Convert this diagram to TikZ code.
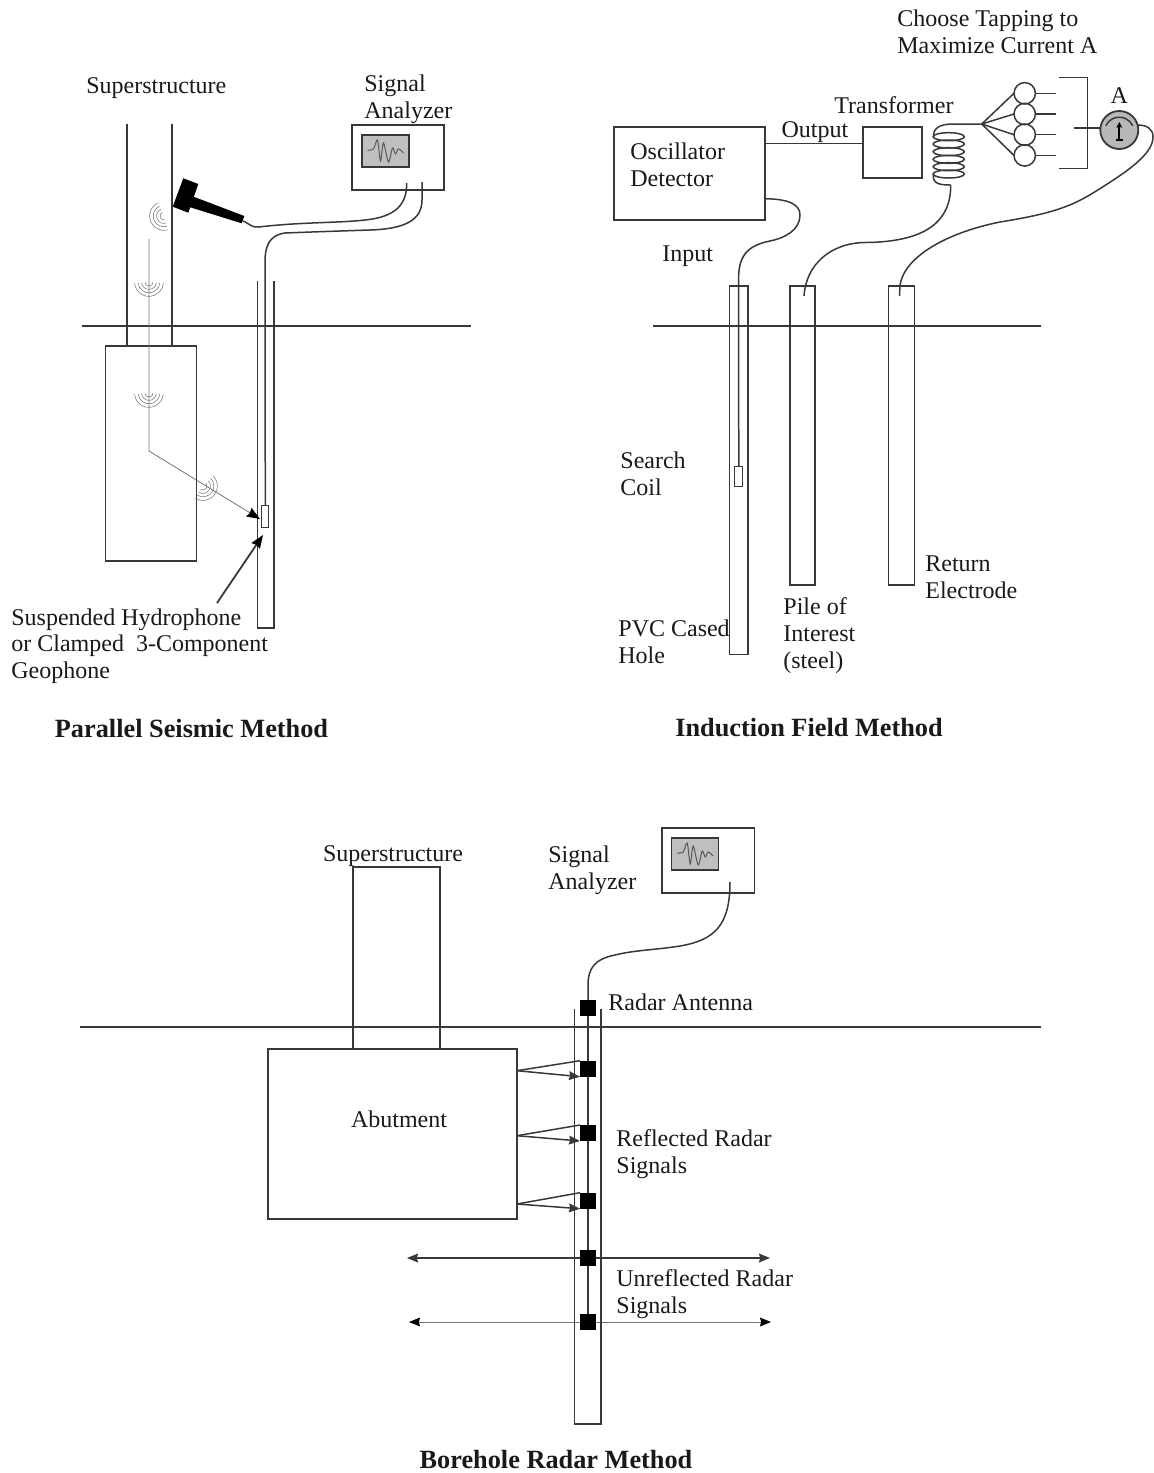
\documentclass[tikz,border=0pt]{standalone}
\usepackage{fontspec}
\setmainfont{Liberation Serif}
\usepackage{xcolor}
\usetikzlibrary{positioning, arrows.meta, backgrounds}

\begin{document}
\begin{tikzpicture}[
    x=0.5pt, y=-0.5pt,
    >={Stealth[length=5.5pt, width=4.4pt, inset=0.6pt]},
    ln/.style={draw=black!78, line width=0.75pt},
    thinln/.style={draw=black!55, line width=0.4pt},
    bigtip/.style={-{Stealth[length=6.5pt, width=5pt, inset=0.6pt, black]}},
    box/.style 2 args={ln, inner sep=0pt, outer sep=0pt, minimum width=#1*0.5pt, minimum height=#2*0.5pt},
    screen/.style={box={47}{32}, fill=black!25},
    lbl/.style={anchor=west, inner sep=0pt, align=left, text=black!90, font=\fontsize{12}{13.3}\selectfont},
    title/.style={inner sep=0pt, text=black!90, font=\fontsize{13.15}{14}\selectfont\bfseries},
    tap/.style={circle, ln, inner sep=0pt, outer sep=0pt, minimum size=10.7pt},
    ant/.style={fill=black, inner sep=0pt, outer sep=0pt, minimum size=8pt},
    trace/.pic={\draw[black!65, line width=0.5pt] plot[smooth, tension=0.5] coordinates {(-18,-1) (-12,-2) (-8,-11) (-5,10) (-2,-8) (3,11) (7,-3) (10,3) (13,-2) (18,2)};},
    ripple/.pic={\foreach \r in {2,3.7,5.4,7.2} {\draw[black!50, line width=0.3pt] (0,0) ++(#1:\r pt) arc[start angle=#1, delta angle=170, radius=\r pt];}},
]
\useasboundingbox (0,0) rectangle (1154,1473);

% Parallel seismic
\node[lbl] (sup1) at (86,88) {Superstructure};
\node[box={91}{215}] (footing) at (151,453.5) {};
\draw[ln] (127,124) -- (127,346);
\draw[ln] (172,124) -- (172,346);
\draw[ln] (82,326) -- (471,326);
\node[box={92}{65}] (sa1) at (398,157.5) {};
\node[screen] (scr1) at (385.5,151) {};
\pic at (scr1) {trace};
\node[lbl] (sa1lab) at (364,99.5) {Signal\\Analyzer};

% Hammer
\fill[black] (183.3,178.3) -- (198.3,184) -- (188.3,212.7) -- (172.7,206.7) -- cycle;
\fill[black] (191.7,196) -- (244.3,216) -- (241.7,223.3) -- (188.3,206.7) -- cycle;
\coordinate (hamend) at (243,221);

% Borehole
\draw[ln] (257.3,281) -- (257.3,628) -- (274,628) -- (274,281);
\node[box={6.7}{22}, line width=0.5pt] (hyd) at (265.3,516) {};
\coordinate (sa1a) at (406.7,183);
\coordinate (sa1b) at (422,182);
\draw[ln] (hamend) .. controls (250,224) and (252,228) .. (259,227) .. controls (300,222) and (340,223) .. (365,220) .. controls (395,217) and (407,205) .. (sa1a);
\draw[ln] (sa1b) -- (422,200) .. controls (422,220) and (405,229) .. (370,230) .. controls (340,231) and (310,232) .. (285,233) .. controls (270,235) and (265,245) .. (265,262) -- (hyd.north);

% Wave path
\coordinate (wavetop) at (149,239);
\coordinate (wavebend) at (149,451);
\coordinate (wavetip) at (260,519);
\draw[thinln, bigtip] (wavetop) -- (wavebend) -- (wavetip);
\pic at (164,216) {ripple=115};
\pic at (149,282) {ripple=185};
\pic at (149,393) {ripple=185};
\pic at (203,486) {ripple=-125};

\node[lbl] (hydlab) at (11,646) {Suspended Hydrophone\\or Clamped\ \ 3-Component\\Geophone};
\coordinate (hydtail) at (217,603);
\coordinate (hydtip) at (263,535);
\draw[ln, line width=0.9pt, bigtip] (hydtail) -- (hydtip);
\node[title] (t1) at (191.5,728) {Parallel Seismic Method};

% Induction field
\node[box={151}{93}] (osc) at (689.5,173.5) {};
\node[lbl] (osclab) at (630,165) {Oscillator\\Detector};
\node[box={59}{51}] (trf) at (892.5,152.5) {};
\draw[ln] (osc.east |- 0,143.5) -- node[lbl, anchor=center, pos=0.51, yshift=5.5pt] (outlab) {Output} (trf.west |- 0,143.5);
\node[lbl] (trflab) at (834,105) {Transformer};
\node[lbl] (inlab) at (662,256) {Input};
\node[box={18.3}{368.5}] (hole) at (738.8,470) {};
\node[box={25}{299}] (pile) at (802.5,435.5) {};
\node[box={26}{299}] (ret) at (901.7,435.5) {};
\draw[ln] (653,326) -- (1041,326);
\node[box={8}{20}, line width=0.5pt] (coil) at (738.8,476) {};
\coordinate (oscin) at (765,198.7);
\draw[ln] (oscin) .. controls (790,199) and (800,205) .. (800,215) .. controls (800,230) and (785,238) .. (770,241) .. controls (745,246) and (738.5,258) .. (738.5,280) -- (coil.north);

% Transformer coil
\foreach \y in {136.7,144,151.7,159.3,166.7,174} {
    \draw[ln] (948.7,\y) ellipse [x radius=7.8pt, y radius=2pt];
}
\coordinate (junc) at (981.7,124);
\coordinate (coilbot) at (950.7,185);
\coordinate (piletop) at (804,296);
\coordinate (rettop) at (899.5,296);
\draw[ln] (933.5,137) .. controls (933,128) and (940,124) .. (953,124) -- (junc);
\draw[ln] (933.5,174) .. controls (932,184) and (940,185) .. (coilbot);
\draw[ln] (piletop) .. controls (806,265) and (830,243) .. (865,242.5) .. controls (925,242) and (951,222) .. (coilbot);

% Tappings
\node[tap] (tapa) at (1024.7,93.3) {};
\node[tap, below=-0.35pt of tapa] (tapb) {};
\node[tap, below=-0.35pt of tapb] (tapc) {};
\node[tap, below=-0.35pt of tapc] (tapd) {};
\foreach \t in {a,b,c,d} {
    \draw[ln] (junc) -- (tap\t.west);
    \draw[ln] (tap\t.east) -- ++(20.7,0);
}
\draw[ln] (1058.7,77.7) -- (1087.7,77.7) -- (1087.7,168.3) -- (1058.7,168.3);
\node[circle, ln, fill=black!28, line width=0.9pt, inner sep=0pt, outer sep=0pt, minimum size=19pt] (amm) at (1119.3,130) {};
\draw[ln] (1074,128) -- (amm.west |- 0,128);
\draw[black!80, line width=0.7pt] (1119.3,132) ++(155:7.4pt) arc[start angle=155, end angle=25, radius=7.4pt];
\draw[black, line width=0.9pt, -{Stealth[length=3pt, width=3pt]}] (1119.3,140) -- (1119.3,122);
\draw[black, line width=0.9pt] (1115.5,140) -- (1123,140);
\node[lbl, anchor=south, above=3.5pt of amm] (amlab) {A};
\draw[ln] (rettop) -- (900,285) .. controls (905,255) and (950,232) .. (1000,222) .. controls (1050,214) and (1070,207) .. (1093,193) .. controls (1125,173) and (1153,155) .. (1153,137) .. controls (1153,128) and (1146,125) .. (amm.15);

\node[lbl] (choose) at (897,32) {Choose Tapping to\\Maximize Current A};
\node[lbl] (coillab) at (620,474) {Search\\Coil};
\node[lbl] (pvclab) at (618,642) {PVC Cased\\Hole};
\node[lbl] (pilelab) at (783,635.5) {Pile of\\Interest\\(steel)};
\node[lbl] (retlab) at (925,577) {Return\\Electrode};
\node[title] (t2) at (809,728) {Induction Field Method};

% Borehole radar
\node[box={87}{182}] (sup3) at (396.5,958) {};
\node[lbl, anchor=center] (sup3lab) at (393,856) {Superstructure};
\node[box={249}{170}] (abut) at (392.5,1134) {};
\node[lbl, anchor=center] (abutlab) at (399,1119) {Abutment};
\draw[ln] (80,1027) -- (1041,1027);
\node[box={92.5}{65}] (sa3) at (708,860.5) {};
\node[screen] (scr3) at (695.2,854) {};
\pic at (scr3) {trace};
\node[lbl] (sa3lab) at (548,870.5) {Signal\\Analyzer};

% Antennas
\node[ant] (ant1) at (588,1008) {};
\node[ant] (ant2) at (588,1068.7) {};
\node[ant] (ant3) at (588,1133) {};
\node[ant] (ant4) at (588,1200.7) {};
\node[ant] (ant5) at (588,1258) {};
\node[ant] (ant6) at (588,1321.7) {};
\draw[ln] (574.7,1009) -- (574.7,1424) -- (601,1424) -- (601,1009);
\coordinate (sa3out) at (730,882);
\draw[ln] (sa3out) .. controls (730,925) and (715,940) .. (680,946) .. controls (655,950) and (635,950) .. (615,955) .. controls (595,959) and (588,968) .. (588,985) -- (ant1.north);

% Reflected signals
\foreach \i/\y in {2/1070.7,3/1135.7,4/1204} {
    \coordinate (refl\i) at (abut.east |- 0,\y);
    \draw[ln] (refl\i) -- (ant\i.north west);
    \draw[ln, ->] (refl\i) -- (ant\i.south west);
}

% Unreflected signals
\coordinate (un1l) at (407,1258);
\coordinate (un1r) at (770,1258);
\coordinate (un2l) at (409,1322);
\coordinate (un2r) at (771,1322);
\begin{scope}[on background layer]
\draw[ln] (ant1) -- (ant6);
\draw[ln, <->] (un1l) -- (un1r);
\draw[thinln, {Stealth[length=5.5pt, width=4.4pt, inset=0.6pt, black]}-{Stealth[length=5.5pt, width=4.4pt, inset=0.6pt, black]}] (un2l) -- (un2r);
\end{scope}

\node[lbl] (antlab) at (608,1002) {Radar Antenna};
\node[lbl] (refllab) at (616,1154) {Reflected Radar\\Signals};
\node[lbl] (unlab) at (616,1294) {Unreflected Radar\\Signals};
\node[title] (t3) at (556,1459) {Borehole Radar Method};

\end{tikzpicture}
\end{document}
